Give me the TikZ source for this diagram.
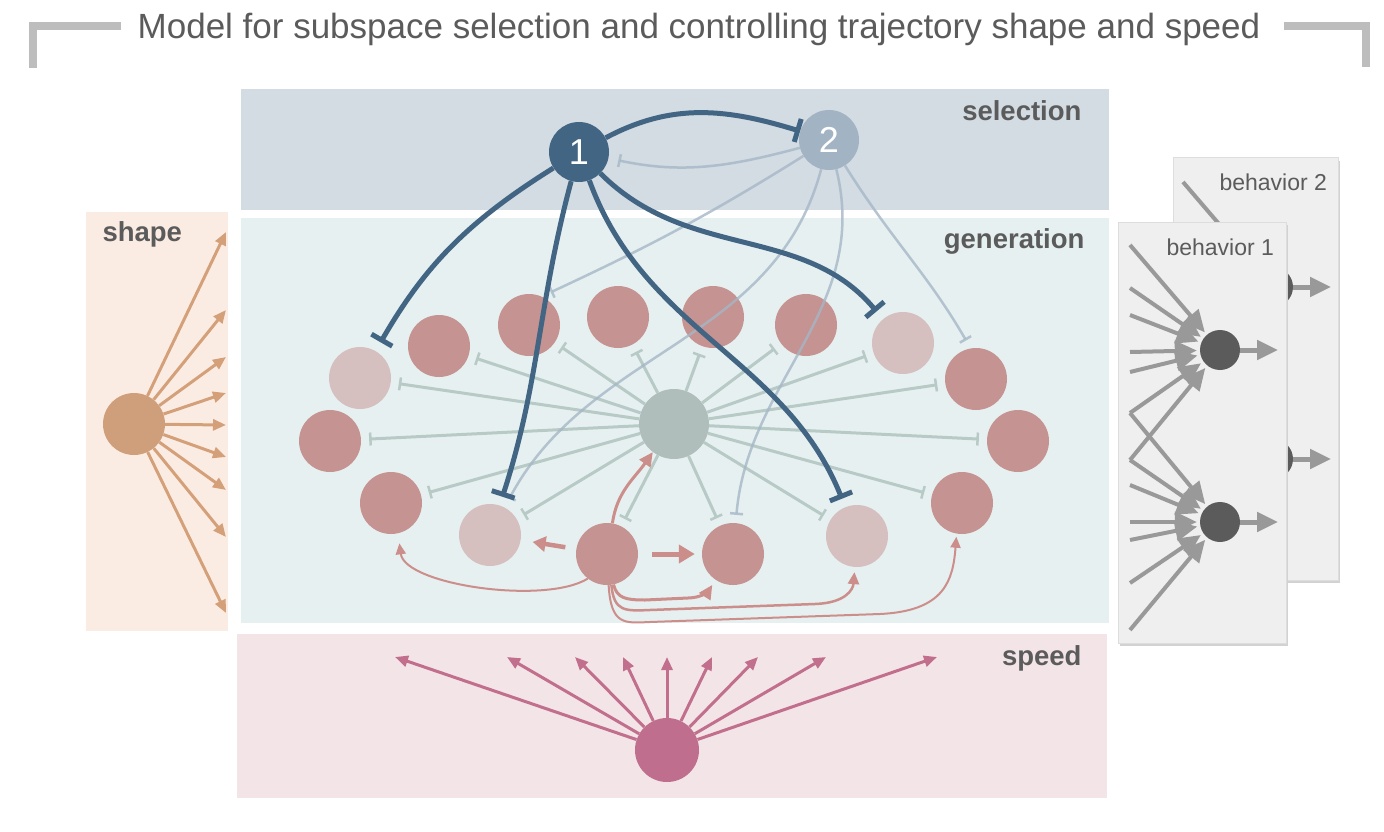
\documentclass[tikz,border=0pt]{standalone}
\usepackage{fontspec}
\setmainfont{Liberation Sans}
\usetikzlibrary{arrows.meta}
\definecolor{selc}{HTML}{D3DBE3}
\definecolor{genc}{HTML}{E6F0F0}
\definecolor{shapec}{HTML}{FBECE3}
\definecolor{speedc}{HTML}{F2E4E7}
\definecolor{behc}{HTML}{EFEFEF}
\definecolor{behb}{HTML}{DDDDDD}
\definecolor{shadowc}{HTML}{D2D2D2}
\definecolor{ringc}{HTML}{C59391}
\definecolor{ringlc}{HTML}{D5BFBF}
\definecolor{centc}{HTML}{AFBEBB}
\definecolor{cedge}{HTML}{B7CAC6}
\definecolor{dblue}{HTML}{436584}
\definecolor{stwoc}{HTML}{A2B3C3}
\definecolor{lblue}{HTML}{A5B7C7}
\definecolor{excc}{HTML}{CC8E8A}
\definecolor{shapen}{HTML}{CF9F7B}
\definecolor{shapea}{HTML}{D4A07A}
\definecolor{speedn}{HTML}{BF6F8D}
\definecolor{speeda}{HTML}{C16F8D}
\definecolor{bgray}{HTML}{999999}
\definecolor{bnodec}{HTML}{5B5B5B}
\definecolor{txtc}{HTML}{5B5B5B}
\definecolor{brkc}{HTML}{BDBDBD}
\pgfdeclarelayer{background}
\pgfdeclarelayer{edges}
\pgfdeclarelayer{seledges}
\pgfdeclarelayer{top}
\pgfsetlayers{background,edges,main,seledges,top}
\newcommand\behcontent[1]{%
  \node[bnode] (#1u) at (1220,-350) {};
  \node[bnode] (#1l) at (1220,-522) {};
  \foreach \yy [count=\k] in {245,288,315,352,372,413,460} {\coordinate (#1a\k) at (1130,-\yy); \draw[bin] (#1a\k) -- (#1u);}
  \foreach \yy [count=\k] in {413,460,485,522,540,583,630} {\coordinate (#1b\k) at (1130,-\yy); \draw[bin] (#1b\k) -- (#1l);}
  \coordinate (#1uo) at (1278,-350);
  \coordinate (#1lo) at (1278,-522);
  \draw[bout] (#1u) -- (#1uo);
  \draw[bout] (#1l) -- (#1lo);
}
\begin{document}
\begin{tikzpicture}[x=1pt,y=1pt,
  ring/.style={circle,fill=ringc,minimum size=62pt,inner sep=0pt},
  snode/.style={circle,minimum size=60pt,inner sep=0pt,text=white,font=\fontsize{36}{36}\selectfont},
  bnode/.style={circle,fill=bnodec,minimum size=40pt,inner sep=0pt},
  cinh/.style={draw=cedge,line width=3pt,-{Bar[width=13pt,line width=2.5pt]},shorten >=8pt},
  dinh/.style={draw=dblue,line width=5pt,-{Bar[width=24pt,line width=5pt]}},
  linh/.style={draw=lblue,draw opacity=0.8,line width=2.5pt,-{Bar[width=13pt,line width=2.5pt]}},
  exc/.style={draw=excc,line width=3pt,-{Triangle[length=14pt,width=13pt]}},
  shar/.style={draw=shapea,line width=3pt,-{Triangle[length=13pt,width=11pt]}},
  spar/.style={draw=speeda,line width=3pt,-{Triangle[length=13pt,width=11pt]}},
  bin/.style={draw=bgray,line width=4pt,-{Triangle[length=22pt,width=20pt]},shorten >=3pt},
  bout/.style={draw=bgray,line width=5pt,-{Triangle[length=21pt,width=19pt]}},
  lbl/.style={text=txtc,font=\fontsize{27.5}{30}\selectfont\bfseries},
  blbl/.style={text=txtc,font=\fontsize{23}{26}\selectfont},
  brk/.style={draw=brkc,line width=8pt}
]
\useasboundingbox (0,0) rectangle (1384,-832);

\begin{pgfonlayer}{background}
\fill[white] (0,0) rectangle (1384,-832);
\fill[selc] (241,-89) rectangle (1109,-210);
\fill[genc] (241,-218) rectangle (1109,-623);
\fill[shapec] (86,-212) rectangle (228,-631);
\fill[speedc] (237,-634) rectangle (1107,-798);
\end{pgfonlayer}

% title
\draw[brk] (121,-26) -- (33,-26) -- (33,-68);
\draw[brk] (1284,-26) -- (1366,-26) -- (1366,-67);
\node[anchor=base,text=txtc,font=\fontsize{35}{40}\selectfont] (title) at (699,-39) {Model for subspace selection and controlling trajectory shape and speed};

% panel labels
\node[lbl,anchor=base east] (lsel) at (1085,-121) {selection};
\node[lbl,anchor=base east] (lgen) at (1088,-248) {generation};
\node[lbl,anchor=base west] (lshape) at (99,-241) {shape};
\node[lbl,anchor=base east] (lspeed) at (1085,-665) {speed};

% generation network
\node[circle,fill=centc,minimum size=70pt,inner sep=0pt] (c) at (674,-424) {};
\foreach \i/\x/\y/\cc in {1/360/378/ringlc,2/439/346/ringc,3/529/325/ringc,4/618/317/ringc,5/713/317/ringc,6/806/325/ringc,7/903/343/ringlc,8/976/379/ringc,9/1018/441/ringc,10/962/503/ringc,11/857/536/ringlc,12/733/554/ringc,13/607/554/ringc,14/490/535/ringlc,15/391/503/ringc,16/330/441/ringc}
  \node[ring,fill=\cc] (r\i) at (\x,-\y) {};
\begin{pgfonlayer}{edges}
\foreach \i in {1,...,16} \draw[cinh] (c) -- (r\i);
\end{pgfonlayer}

% excitatory arrows from r13
\draw[exc] (r13.80) to[out=82,in=235] (c.233);
\draw[draw=excc,line width=4.5pt,-{Triangle[length=13pt,width=15pt]},shorten <=11pt,shorten >=12pt] (r13) -- (r14);
\draw[draw=excc,line width=5pt,-{Triangle[length=16pt,width=18pt]},shorten <=14pt,shorten >=7pt] (r13) -- (r12);
\draw[draw=excc,line width=2pt,-{Triangle[length=11pt,width=10pt]},shorten >=10pt] (r13.232) .. controls (545,-605) and (405,-585) .. (r15.-77);
\draw[draw=excc,line width=3pt,-{Triangle[length=14pt,width=13pt]},shorten >=6pt] (r13.-78) .. controls (617,-598) and (625,-600) .. (645,-600) -- (688,-598) .. controls (702,-598) and (709,-590) .. (r12.236);
\draw[draw=excc,line width=2.5pt,-{Triangle[length=12pt,width=11pt]},shorten >=5pt] (r13.-82) .. controls (614,-612) and (625,-611) .. (650,-610) -- (815,-604) .. controls (845,-603) and (853,-590) .. (r11.-94);
\draw[draw=excc,line width=2pt,-{Triangle[length=11pt,width=10pt]},shorten >=3pt] (r13.-87) .. controls (611,-626) and (625,-623) .. (650,-622) -- (880,-614) .. controls (945,-611) and (953,-580) .. (r10.-100);

% selection nodes and edges
\begin{pgfonlayer}{top}
\node[snode,fill=dblue] (s1) at (579,-152) {1};
\node[snode,fill=stwoc] (s2) at (829,-140) {2};
\end{pgfonlayer}
\begin{pgfonlayer}{seledges}
\draw[linh,shorten >=10pt] (s2) to[out=195,in=-12] (s1);
\draw[linh,shorten >=10pt] (s2) to[out=212,in=25] (r3.66);
\draw[linh,shorten >=10pt] (s2) to[out=255,in=62] (r14.62);
\draw[linh,shorten >=8pt] (s2) to[out=-76,in=85] (r12);
\draw[linh,shorten >=9pt] (s2) to[out=-58,in=120] (r8.100);
\draw[dinh] (s1) to[out=28,in=163] (s2);
\draw[dinh,shorten >=10pt] (s1) to[out=212,in=60] (r1);
\draw[dinh,shorten >=9pt] (s1) to[out=255,in=72] (r14);
\draw[dinh,shorten >=9pt] (s1) to[out=-70,in=112] (r11);
\draw[dinh,shorten >=10pt] (s1) to[out=-45,in=130] (r7);
\end{pgfonlayer}

% shape
\node[circle,fill=shapen,minimum size=62pt,inner sep=0pt] (sh) at (134,-424) {};
\foreach \yy [count=\k] in {232,310,357,393,425,457,490,537,613} {\coordinate (sht\k) at (226,-\yy); \draw[shar] (sh) -- (sht\k);}

% speed
\node[circle,fill=speedn,minimum size=64pt,inner sep=0pt] (sp) at (667,-750) {};
\foreach \xx [count=\k] in {395,507,575,623,667,712,758,826,937} {\coordinate (spt\k) at (\xx,-657); \draw[spar] (sp) -- (spt\k);}

% behavior panels
\fill[shadowc] (1175,-161) rectangle (1340,-583);
\filldraw[fill=behc,draw=behb,line width=1pt] (1173,-158) rectangle (1338,-580);
\begin{scope}[shift={(53,63)}]
\behcontent{bb}
\end{scope}
\node[blbl,anchor=base west] (lb2) at (1216,-190) {behavior 2};
\fill[shadowc] (1120,-225) rectangle (1288,-646);
\filldraw[fill=behc,draw=behb,line width=1pt] (1118,-222) rectangle (1286,-643);
\behcontent{ba}
\node[blbl,anchor=base west] (lb1) at (1163,-255) {behavior 1};
\end{tikzpicture}
\end{document}
